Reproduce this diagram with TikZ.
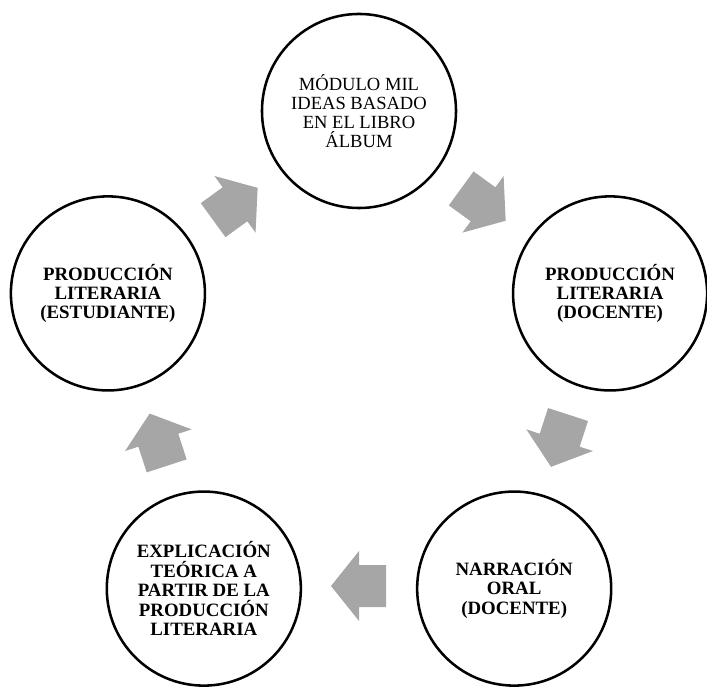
\documentclass[tikz,border=0pt]{standalone}
\usepackage{fontspec}
\setmainfont{Liberation Serif}

\definecolor{arrowgray}{RGB}{166,166,166}
\tikzset{
  stage/.style={draw, circle, line width=1.8pt, minimum size=4.85cm,
    inner sep=0pt, align=center, font=\fontsize{13.4}{13.8}\selectfont\bfseries},
  stagelight/.style={stage, font=\fontsize{13.2}{13.6}\selectfont},
}

\begin{document}
\begin{tikzpicture}[x=0.025cm, y=0.025cm]
\useasboundingbox (-359,-313) rectangle (348,375);
% the five stages of the cycle
\node [stagelight] (modulo) at (90:264) {MÓDULO MIL\\IDEAS BASADO\\EN EL LIBRO\\ÁLBUM};
\node [stage] (docente) at (18:264) {PRODUCCIÓN\\LITERARIA\\(DOCENTE)};
\node [stage] (narracion) at (-54:264) {NARRACIÓN\\ORAL\\(DOCENTE)};
\node [stage] (explicacion) at (-126:264) {EXPLICACIÓN\\TEÓRICA A\\PARTIR DE LA\\PRODUCCIÓN\\LITERARIA};
\node [stage] (estudiante) at (162:264) {PRODUCCIÓN\\LITERARIA\\(ESTUDIANTE)};
% block arrows between the stages
\foreach \a in {54,-18,-90,-162,126}
  \fill [arrowgray, shift={(\a:211)}, rotate=\a-90]
    (-27,-21) -- (0,-21) -- (0,-35) -- (28,0) -- (0,35) -- (0,21) -- (-27,21) -- cycle;
\end{tikzpicture}
\end{document}
